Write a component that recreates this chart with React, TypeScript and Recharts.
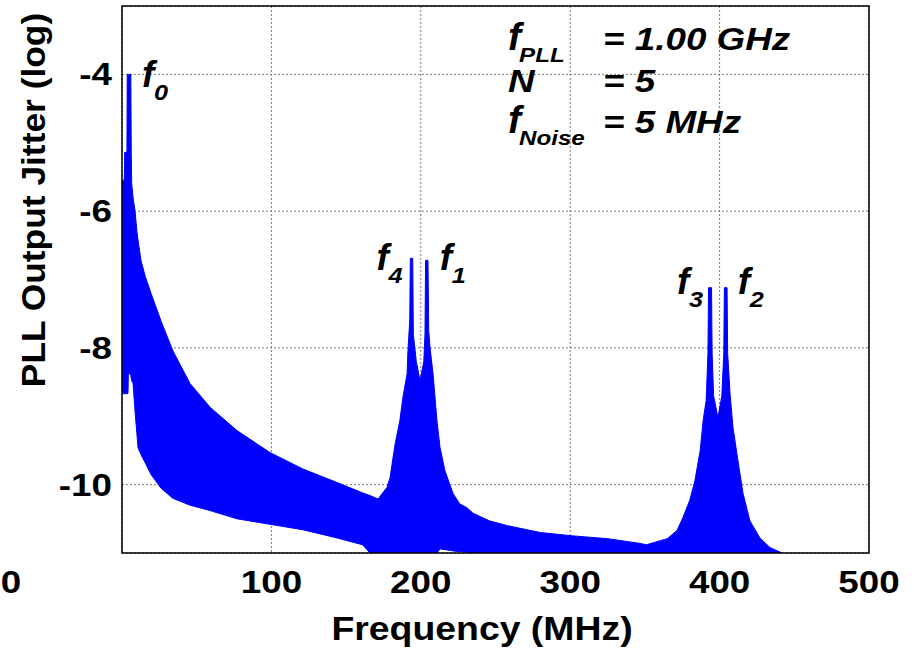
import React from "react"
import { AreaChart, Area, XAxis, YAxis, CartesianGrid, ReferenceArea, ReferenceDot } from "recharts"

const FONT = '"Liberation Sans", Arial, Helvetica, sans-serif'
const STRETCH = 1.15

// frequency (MHz) and the upper / lower envelope of the jitter spectrum (log)
const freqs = [
  0, 1.5, 1.8, 3.3, 3.5, 4.0, 4.3, 5.9, 6.2, 6.5, 7.4, 8.7, 10.0, 10.7, 12.7, 15.5, 19.4, 26, 34, 45.5,
  59, 77, 99, 121, 144, 161, 166, 171.4, 177.4, 179.4, 182.7, 186, 188, 190.8, 191.4, 192.6, 193.0, 194.6, 195.0, 197,
  199.5, 202, 202.8, 203.2, 204.8, 205.3, 206.2, 208.2, 210.8, 212.9, 216.2, 221.6, 226, 231, 235, 246, 258, 280, 302, 325,
  347, 351, 365, 371.5, 375.5, 380, 383.5, 387, 389, 391, 392.2, 392.6, 394.6, 395, 396, 398.9, 401.5, 402.8, 403.2, 405,
  405.4, 407, 409, 412.3, 415.7, 420.3, 427, 433.7, 441.8,
]
const upper = [
  -5.55, -5.55, -5.14, -5.14, -4.0, -4.0, -4.0, -4.0, -5.14, -5.6, -5.8, -5.99, -6.3, -6.42, -6.72, -6.95, -7.2, -7.6, -8.04, -8.52,
  -8.87, -9.21, -9.53, -9.77, -9.97, -10.12, -10.16, -10.21, -10.04, -9.9, -9.42, -9.06, -8.73, -8.38, -8.04, -7.6, -6.69, -6.69, -7.8, -8.2,
  -8.48, -8.2, -7.8, -6.72, -6.72, -7.75, -8.0, -8.38, -9.06, -9.46, -9.8, -10.13, -10.28, -10.34, -10.42, -10.53, -10.6, -10.7, -10.75, -10.79,
  -10.86, -10.88, -10.79, -10.67, -10.48, -10.23, -9.94, -9.5, -9.06, -8.77, -8.08, -7.12, -7.12, -8.08, -8.7, -9.02, -8.7, -8.08, -7.12, -7.12,
  -8.08, -8.67, -9.17, -9.65, -10.13, -10.53, -10.78, -10.92, -11.0,
]
const lower = [
  -8.67, -8.67, -8.67, -8.67, -8.67, -8.67, -8.36, -8.4, -8.45, -8.48, -8.52, -8.92, -9.26, -9.46, -9.56, -9.68, -9.85, -10.05, -10.2, -10.3,
  -10.38, -10.5, -10.58, -10.66, -10.78, -10.88, -11, -11, -11, -11, -11, -11, -11, -11, -11, -11, -11, -11, -11, -11,
  -11, -11, -11, -11, -11, -11, -11, -11, -11, -10.94, -10.95, -10.97, -10.98, -10.99, -11, -11, -11, -11, -11, -11,
  -11, -11, -11, -11, -11, -11, -11, -11, -11, -11, -11, -11, -11, -11, -11, -11, -11, -11, -11, -11,
  -11, -11, -11, -11, -11, -11, -11, -11, -11,
]

const xTicks = [0, 100, 200, 300, 400, 500]
const yTicks = [-10, -8, -6, -4]

// spectral peaks and their names
const peakFreqs = [4.7, 193.8, 204, 393.6, 404.1]
const peakVals = [-4, -6.69, -6.72, -7.12, -7.12]
const peakSubs = ["0", "4", "1", "3", "2"]
const peakOffsets = [[13, 13], [-35, 12], [13, 10], [-33, 6], [12, 6]]

// parameter box text
const paramMain = ["f", "N", "f"]
const paramSub = ["PLL", "", "Noise"]
const paramValue = ["= 1.00 GHz", "= 5", "= 5 MHz"]

const rows = freqs.map((f, i) => ({ f, hi: upper[i], lo: lower[i] }))

function Stretched({ x, y, anchor = "start", size = 32, italic = false, children }: any) {
  return (
    <g transform={`translate(${x},${y}) scale(${STRETCH},1)`}>
      <text x={0} y={0} textAnchor={anchor} fontSize={size} fontWeight="bold"
        fontStyle={italic ? "italic" : "normal"} fontFamily={FONT} fill="#000">
        {children}
      </text>
    </g>
  )
}

const XTick = ({ x, y, payload }: any) => {
  // the "0" label sits far to the left in the original figure
  const cx = payload.value === 0 ? x - 111 : x
  return <Stretched x={cx} y={y + 40} anchor="middle">{payload.value}</Stretched>
}

const YTick = ({ x, y, payload }: any) => (
  <Stretched x={x - 10} y={y + 11} anchor="end">{payload.value}</Stretched>
)

const PeakLabel = ({ viewBox, sub, dx, dy }: any) => {
  const x = viewBox.x + dx
  const y = viewBox.y + dy
  return (
    <g>
      <text x={x} y={y} fontSize={37} fontWeight="bold" fontStyle="italic" fontFamily={FONT} fill="#000">f</text>
      <Stretched x={x + 12} y={y + 13} size={22} italic>{sub}</Stretched>
    </g>
  )
}

const ParamBlock = ({ viewBox }: any) => {
  const x = viewBox.x
  const y = viewBox.y
  return (
    <g>
      {paramMain.map((m, i) => {
        const by = y + i * 41.5
        return (
          <g key={i}>
            {m === "f" ? (
              <text x={x} y={by} fontSize={39} fontWeight="bold" fontStyle="italic" fontFamily={FONT} fill="#000">f</text>
            ) : (
              <Stretched x={x} y={by} size={32} italic>{m}</Stretched>
            )}
            {paramSub[i] && <Stretched x={x + 11} y={by + 12} size={21} italic>{paramSub[i]}</Stretched>}
            <Stretched x={x + 95} y={by} size={32} italic>{paramValue[i]}</Stretched>
          </g>
        )
      })}
    </g>
  )
}

const YTitle = () => (
  <g transform="translate(45,200) rotate(-90) scale(1.04,1)">
    <text x={0} y={0} textAnchor="middle" fontSize={34} fontWeight="bold" fontFamily={FONT} fill="#000">
      PLL Output Jitter (log)
    </text>
  </g>
)

const XTitle = () => (
  <g transform="translate(482,640) scale(1.1,1)">
    <text x={0} y={0} textAnchor="middle" fontSize={34} fontWeight="bold" fontFamily={FONT} fill="#000">
      Frequency (MHz)
    </text>
  </g>
)

export default function App() {
  return (
    <div style={{ position: "absolute", left: 0, top: 0, width: 914, height: 652, background: "#fff" }}>
      <AreaChart width={914} height={652} data={rows} margin={{ top: 6, right: 45, left: 0, bottom: 0 }}>
        <CartesianGrid stroke="#7a7a7a" strokeDasharray="2 2" strokeWidth={1} />
        <XAxis dataKey="f" type="number" domain={[0, 500]} ticks={xTicks} height={99}
          axisLine={false} tickLine={false} tickSize={0} tickMargin={0} tick={<XTick />}
          interval={0} allowDataOverflow label={<XTitle />} />
        <YAxis type="number" domain={[-11, -3]} ticks={yTicks} width={122}
          axisLine={false} tickLine={false} tickSize={0} tickMargin={0} tick={<YTick />}
          interval={0} allowDataOverflow label={<YTitle />} />
        <Area type="linear" dataKey={(d: any) => [d.lo, d.hi]} stroke="#0000ff" strokeWidth={1}
          fill="#0000ff" fillOpacity={1} dot={false} activeDot={false} isAnimationActive={false} />
        <ReferenceArea x1={0} x2={500} y1={-11} y2={-3} fill="none" stroke="#000" strokeWidth={1.5} ifOverflow="visible" />
        {peakFreqs.map((f, i) => (
          <ReferenceDot key={i} x={f} y={peakVals[i]} r={0} fill="none" stroke="none" ifOverflow="visible"
            label={<PeakLabel sub={peakSubs[i]} dx={peakOffsets[i][0]} dy={peakOffsets[i][1]} />} />
        ))}
        <ReferenceDot x={258.4} y={-3.65} r={0} fill="none" stroke="none" ifOverflow="visible" label={<ParamBlock />} />
      </AreaChart>
    </div>
  )
}
